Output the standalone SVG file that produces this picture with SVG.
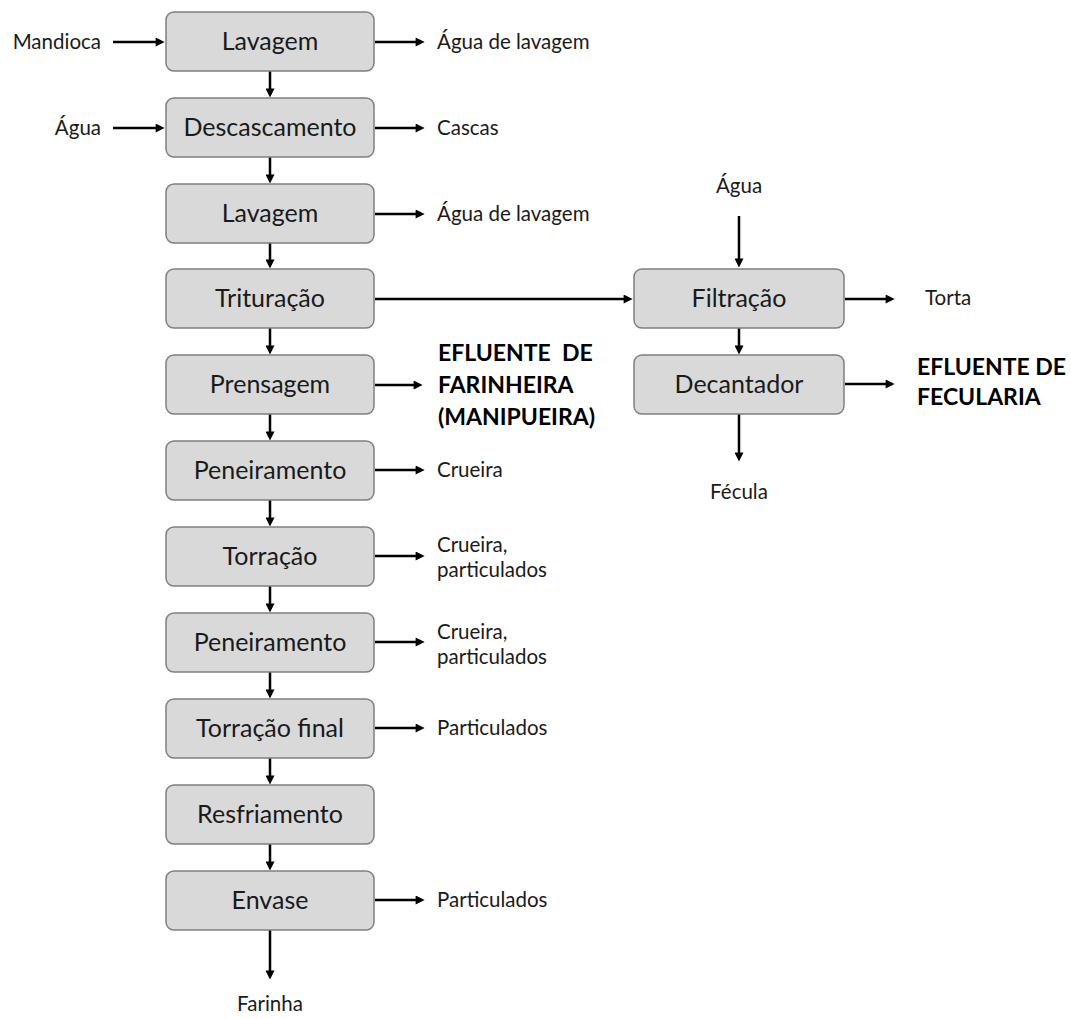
<svg xmlns="http://www.w3.org/2000/svg" width="1071" height="1019" viewBox="0 0 1071 1019">
<defs>
<marker id="ah" viewBox="0 0 10 10" refX="6" refY="5" markerWidth="10" markerHeight="9" markerUnits="userSpaceOnUse" orient="auto">
<path d="M0,0 L10,5 L0,10 z" fill="#000"/>
</marker>
</defs>
<style>
.box{fill:#d9d9d9;stroke:#7f7f7f;stroke-width:1.5}
.bt{font-family:Lato,"Open Sans","Liberation Sans",sans-serif;font-size:25px;fill:#1a1a1a;text-anchor:middle}
.lb{font-family:Lato,"Open Sans","Liberation Sans",sans-serif;font-size:20.5px;fill:#1a1a1a}
.bd{font-family:Lato,"Open Sans","Liberation Sans",sans-serif;font-size:23px;font-weight:bold;fill:#000}
.ar{stroke:#000;stroke-width:2.5;fill:none;marker-end:url(#ah)}
</style>
<rect width="1071" height="1019" fill="#fff"/>
<g id="connectors">
<line class="ar" x1="113" y1="42" x2="161" y2="42"/>
<line class="ar" x1="113" y1="128" x2="161" y2="128"/>
<line class="ar" x1="375" y1="42" x2="421" y2="42"/>
<line class="ar" x1="375" y1="128" x2="421" y2="128"/>
<line class="ar" x1="375" y1="214" x2="421" y2="214"/>
<line class="ar" x1="375" y1="299" x2="629" y2="299"/>
<line class="ar" x1="375" y1="385" x2="419" y2="385"/>
<line class="ar" x1="375" y1="470" x2="421" y2="470"/>
<line class="ar" x1="375" y1="556" x2="421" y2="556"/>
<line class="ar" x1="375" y1="642" x2="421" y2="642"/>
<line class="ar" x1="375" y1="728" x2="421" y2="728"/>
<line class="ar" x1="375" y1="900" x2="421" y2="900"/>
<line class="ar" x1="270" y1="71" x2="270" y2="94"/>
<line class="ar" x1="270" y1="157" x2="270" y2="180"/>
<line class="ar" x1="270" y1="243" x2="270" y2="265"/>
<line class="ar" x1="270" y1="328" x2="270" y2="351"/>
<line class="ar" x1="270" y1="414" x2="270" y2="437"/>
<line class="ar" x1="270" y1="500" x2="270" y2="523"/>
<line class="ar" x1="270" y1="586" x2="270" y2="609"/>
<line class="ar" x1="270" y1="672" x2="270" y2="695"/>
<line class="ar" x1="270" y1="758" x2="270" y2="781"/>
<line class="ar" x1="270" y1="844" x2="270" y2="867"/>
<line class="ar" x1="270" y1="930" x2="270" y2="976"/>
<line class="ar" x1="739" y1="216" x2="739" y2="264"/>
<line class="ar" x1="739" y1="328" x2="739" y2="351"/>
<line class="ar" x1="739" y1="414" x2="739" y2="458"/>
<line class="ar" x1="845" y1="299" x2="891" y2="299"/>
<line class="ar" x1="845" y1="384" x2="891" y2="384"/>
</g>
<g id="n1"><rect class="box" x="166" y="12" width="208" height="59" rx="8"/><text class="bt" x="270" y="50">Lavagem</text></g>
<g id="n2"><rect class="box" x="166" y="98" width="208" height="59" rx="8"/><text class="bt" x="270" y="136">Descascamento</text></g>
<g id="n3"><rect class="box" x="166" y="184" width="208" height="59" rx="8"/><text class="bt" x="270" y="222">Lavagem</text></g>
<g id="n4"><rect class="box" x="166" y="269" width="208" height="59" rx="8"/><text class="bt" x="270" y="307">Trituração</text></g>
<g id="n5"><rect class="box" x="166" y="355" width="208" height="59" rx="8"/><text class="bt" x="270" y="393">Prensagem</text></g>
<g id="n6"><rect class="box" x="166" y="441" width="208" height="59" rx="8"/><text class="bt" x="270" y="479">Peneiramento</text></g>
<g id="n7"><rect class="box" x="166" y="527" width="208" height="59" rx="8"/><text class="bt" x="270" y="565">Torração</text></g>
<g id="n8"><rect class="box" x="166" y="613" width="208" height="59" rx="8"/><text class="bt" x="270" y="651">Peneiramento</text></g>
<g id="n9"><rect class="box" x="166" y="699" width="208" height="59" rx="8"/><text class="bt" x="270" y="737">Torração final</text></g>
<g id="n10"><rect class="box" x="166" y="785" width="208" height="59" rx="8"/><text class="bt" x="270" y="823">Resfriamento</text></g>
<g id="n11"><rect class="box" x="166" y="871" width="208" height="59" rx="8"/><text class="bt" x="270" y="909">Envase</text></g>
<g id="n12"><rect class="box" x="634" y="269" width="210" height="59" rx="8"/><text class="bt" x="739" y="307">Filtração</text></g>
<g id="n13"><rect class="box" x="634" y="355" width="210" height="59" rx="8"/><text class="bt" x="739" y="393">Decantador</text></g>
<g id="labels">
<text class="lb" x="101" y="48.5" text-anchor="end">Mandioca</text>
<text class="lb" x="101" y="134.5" text-anchor="end">Água</text>
<text class="lb" x="437" y="48.5">Água de lavagem</text>
<text class="lb" x="437" y="134.5">Cascas</text>
<text class="lb" x="437" y="220.5">Água de lavagem</text>
<text class="lb" x="437" y="476.5">Crueira</text>
<text class="lb" x="437" y="551.5">Crueira,</text>
<text class="lb" x="437" y="576.5">particulados</text>
<text class="lb" x="437" y="638.5">Crueira,</text>
<text class="lb" x="437" y="663.5">particulados</text>
<text class="lb" x="437" y="734.5">Particulados</text>
<text class="lb" x="437" y="906.5">Particulados</text>
<text class="lb" x="270" y="1011" text-anchor="middle">Farinha</text>
<text class="lb" x="739" y="193" text-anchor="middle">Água</text>
<text class="lb" x="925" y="305">Torta</text>
<text class="lb" x="739" y="499" text-anchor="middle">Fécula</text>
<text class="bd" x="438" y="361">EFLUENTE<tspan x="562">DE</tspan></text>
<text class="bd" x="438" y="393">FARINHEIRA</text>
<text class="bd" x="438" y="425">(MANIPUEIRA)</text>
<text class="bd" x="917" y="375">EFLUENTE DE</text>
<text class="bd" x="917" y="405">FECULARIA</text>
</g>
</svg>
